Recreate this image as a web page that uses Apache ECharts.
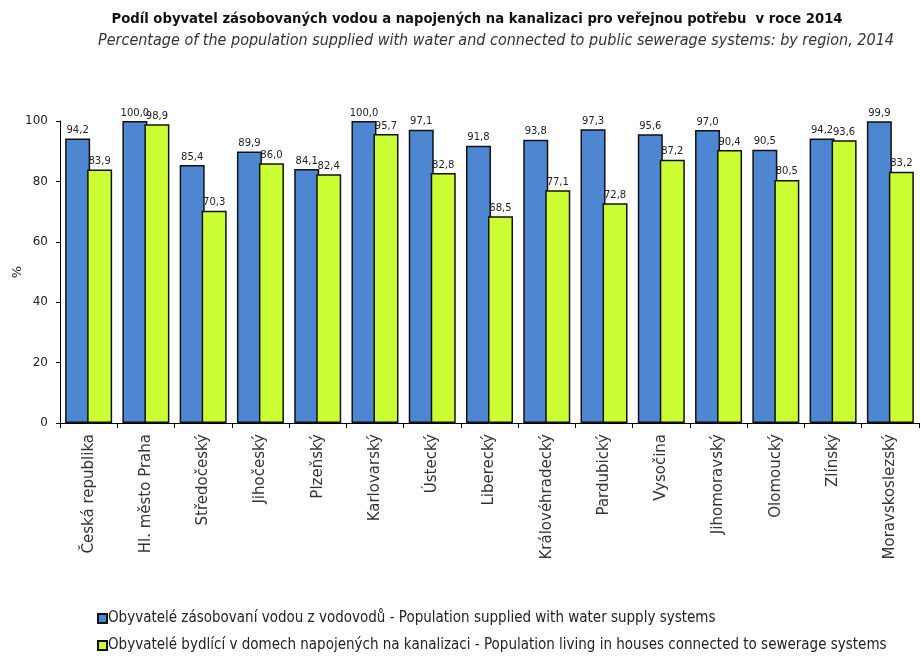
<!DOCTYPE html>
<html>
<head>
<meta charset="utf-8">
<script src="https://cdn.jsdelivr.net/npm/echarts@6/dist/echarts.min.js"></script>
<style>
  html, body { margin: 0; padding: 0; background: #fff; }
  #chart { width: 921px; height: 659px; }
</style>
</head>
<body>
<div id="chart"></div>
<script>
// Regions of the Czech Republic
var regions = [
  'Česká republika', 'Hl. město Praha', 'Středočeský', 'Jihočeský', 'Plzeňský',
  'Karlovarský', 'Ústecký', 'Liberecký', 'Královéhradecký', 'Pardubický',
  'Vysočina', 'Jihomoravský', 'Olomoucký', 'Zlínský', 'Moravskoslezský'
];

// Share of population supplied with water from public water supply (%)
var waterSupply = [94.2, 100.0, 85.4, 89.9, 84.1, 100.0, 97.1, 91.8, 93.8, 97.3, 95.6, 97.0, 90.5, 94.2, 99.9];

// Share of population living in houses connected to public sewerage (%)
var sewerage = [83.9, 98.9, 70.3, 86.0, 82.4, 95.7, 82.8, 68.5, 77.1, 72.8, 87.2, 90.4, 80.5, 93.6, 83.2];

var yTicks = [0, 20, 40, 60, 80, 100];

var seriesNames = [
  'Obyvatelé zásobovaní vodou z vodovodů - Population supplied with water supply systems',
  'Obyvatelé bydlící v domech napojených na kanalizaci - Population living in houses connected to sewerage systems'
];

var narrow = '"DejaVu Sans Condensed", "Liberation Sans", Arial, sans-serif';
var wide = '"DejaVu Sans", "Liberation Sans", Arial, sans-serif';

function fmt(v) { return v.toFixed(1).replace('.', ','); }

var labelStyle = {
  show: true,
  position: 'top',
  distance: 3,
  fontSize: 10,
  fontFamily: wide,
  color: '#222',
  formatter: function (p) { return fmt(p.value); }
};

var chart = echarts.init(document.getElementById('chart'), null, { renderer: 'canvas' });

chart.setOption({
  backgroundColor: '#ffffff',
  animation: false,
  title: [
    {
      text: 'Podíl obyvatel zásobovaných vodou a napojených na kanalizaci pro veřejnou potřebu  v roce 2014',
      left: 472, top: 7, textAlign: 'center',
      textStyle: { fontFamily: narrow, fontSize: 14.7, fontWeight: 'bold', color: '#111' }
    },
    {
      text: 'Percentage of the population supplied with water and connected to public sewerage systems: by region, 2014',
      left: 491, top: 28, textAlign: 'center',
      textStyle: { fontFamily: narrow, fontSize: 16, fontWeight: 'normal', fontStyle: 'italic', color: '#333' }
    }
  ],
  legend: {
    orient: 'vertical',
    left: 92, top: 606,
    itemWidth: 9, itemHeight: 9, itemGap: 12,
    icon: 'rect',
    textStyle: { fontFamily: narrow, fontSize: 15, color: '#222', padding: [0, 0, 0, -4] },
    data: seriesNames
  },
  grid: { left: 60, right: 2, top: 121, bottom: 236, containLabel: false, outerBoundsMode: 'none' },
  xAxis: {
    type: 'category',
    data: regions,
    axisLine: { lineStyle: { color: '#000', width: 1 } },
    axisTick: { show: true, length: 5, lineStyle: { color: '#000' } },
    axisLabel: {
      rotate: 90, margin: 11, interval: 0,
      fontFamily: wide, fontSize: 15, color: '#333'
    }
  },
  yAxis: {
    type: 'value',
    min: yTicks[0], max: yTicks[yTicks.length - 1], interval: 20,
    name: '%',
    nameLocation: 'middle',
    nameGap: 36,
    nameMoveOverlap: false,
    nameRotate: 90,
    nameTextStyle: { fontFamily: wide, fontSize: 13, color: '#222' },
    axisLine: { show: true, lineStyle: { color: '#000', width: 1 } },
    axisTick: { show: true, inside: false, length: 4, lineStyle: { color: '#000' } },
    splitLine: { show: false },
    axisLabel: {
      margin: 12,
      fontFamily: wide, fontSize: 12, color: '#222'
    }
  },
  series: [
    {
      name: seriesNames[0],
      type: 'bar',
      data: waterSupply,
      barWidth: 25,
      barGap: '-12%',
      itemStyle: { color: '#4f86d2', borderColor: '#111', borderWidth: 1.5 },
      label: labelStyle
    },
    {
      name: seriesNames[1],
      type: 'bar',
      data: sewerage,
      barWidth: 25,
      itemStyle: { color: '#ccff33', borderColor: '#111', borderWidth: 1.5 },
      label: labelStyle
    }
  ]
});
</script>
</body>
</html>
